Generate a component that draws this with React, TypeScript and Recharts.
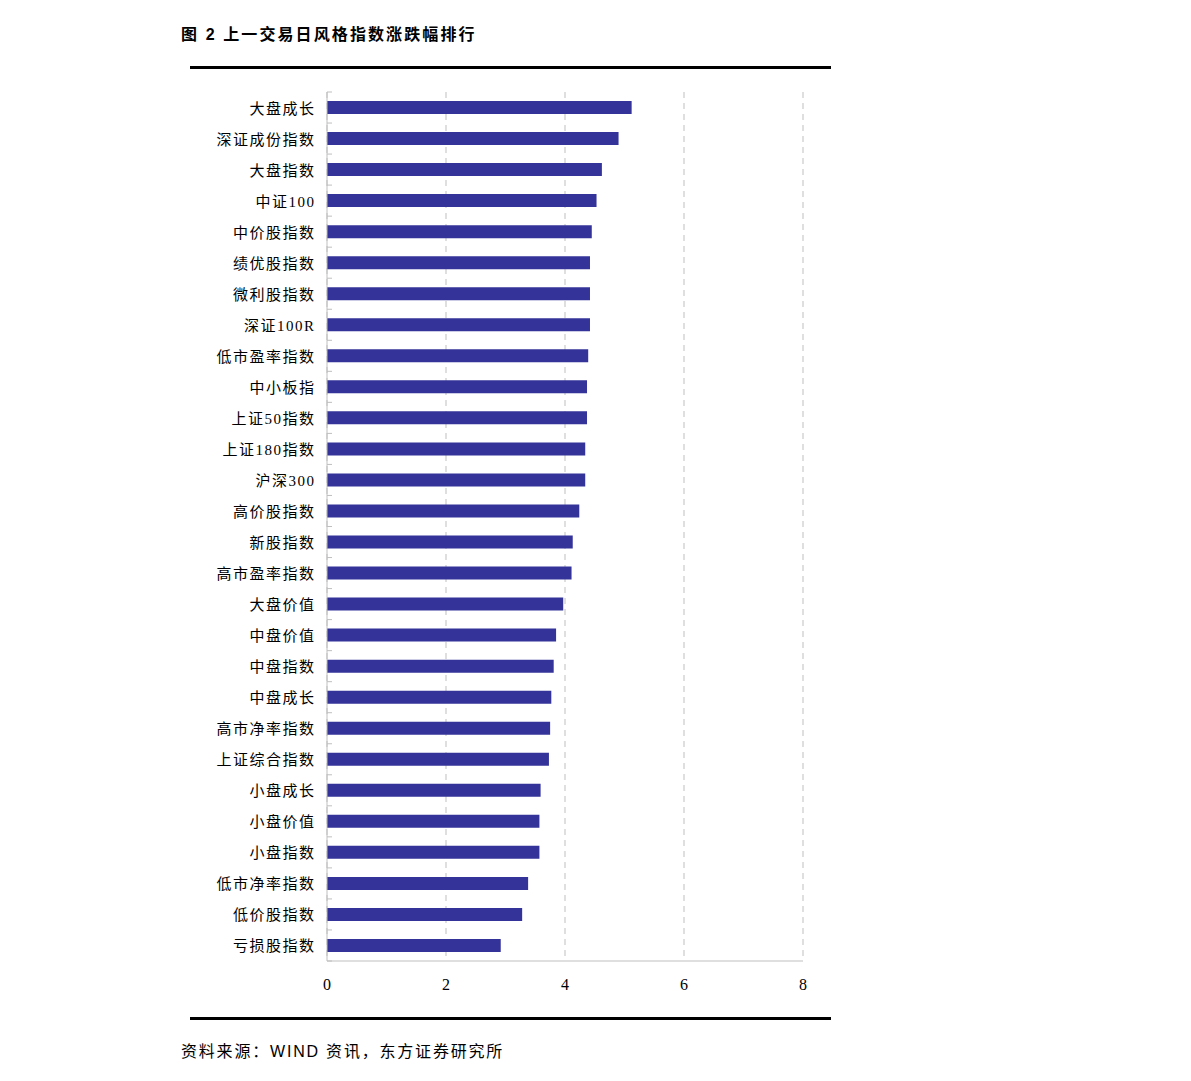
import React from 'react';
import { BarChart, Bar, XAxis, YAxis, CartesianGrid } from 'recharts';

// categories, top to bottom
const categories = [
  '大盘成长', '深证成份指数', '大盘指数', '中证100', '中价股指数', '绩优股指数', '微利股指数',
  '深证100R', '低市盈率指数', '中小板指', '上证50指数', '上证180指数', '沪深300', '高价股指数',
  '新股指数', '高市盈率指数', '大盘价值', '中盘价值', '中盘指数', '中盘成长', '高市净率指数',
  '上证综合指数', '小盘成长', '小盘价值', '小盘指数', '低市净率指数', '低价股指数', '亏损股指数',
];

// 涨跌幅 (%)
const changes = [
  5.12, 4.90, 4.62, 4.53, 4.45, 4.42, 4.42,
  4.42, 4.39, 4.37, 4.37, 4.34, 4.34, 4.24,
  4.13, 4.11, 3.97, 3.85, 3.81, 3.77, 3.75,
  3.73, 3.59, 3.57, 3.57, 3.38, 3.28, 2.92,
];

const xTicks = [0, 2, 4, 6, 8];

const data = categories.map((name, i) => ({ name, value: changes[i] }));

const W = 1191;
const H = 1081;
const PLOT_TOP = 92;
const PLOT_BOTTOM = 961;
const PLOT_LEFT = 327;
const PLOT_RIGHT = 803;
const step = (PLOT_BOTTOM - PLOT_TOP) / categories.length;

const AXIS_GRAY = '#bfbfbf';
const LABEL_FONT = '"Liberation Serif", "Noto Sans CJK SC", serif';

const CategoryTick = ({ x, y, payload, index }: any) => (
  <g>
    {index === 0 && (
      <line x1={x} x2={x + 5} y1={y - step / 2} y2={y - step / 2} stroke={AXIS_GRAY} />
    )}
    <line x1={x} x2={x + 5} y1={y + step / 2} y2={y + step / 2} stroke={AXIS_GRAY} />
    <text
      x={x - 11.5}
      y={y + 1}
      textAnchor="end"
      dominantBaseline="central"
      fontSize={15}
      letterSpacing={1.5}
      fill="#000"
      fontFamily={LABEL_FONT}
    >
      {payload.value}
    </text>
  </g>
);

const ValueTick = ({ x, y, payload }: any) => (
  <text
    x={x}
    y={y + 23}
    textAnchor="middle"
    dominantBaseline="central"
    fontSize={16}
    fill="#000"
    fontFamily={LABEL_FONT}
  >
    {payload.value}
  </text>
);

export default function App() {
  return (
    <div style={{ position: 'absolute', left: 0, top: 0, width: W, height: H, background: '#fff' }}>
      <div
        style={{
          position: 'absolute',
          left: 181,
          top: 21,
          fontSize: 16,
          fontWeight: 'bold',
          letterSpacing: 2.1,
          fontFamily: '"Liberation Sans", "Noto Sans CJK SC", sans-serif',
          whiteSpace: 'nowrap',
        }}
      >
        图 2 上一交易日风格指数涨跌幅排行
      </div>
      <div style={{ position: 'absolute', left: 190, top: 66, width: 641, height: 3, background: '#000' }} />

      <div style={{ position: 'absolute', left: 0, top: 0 }}>
        <BarChart
          width={W}
          height={H}
          data={data}
          layout="vertical"
          margin={{ top: PLOT_TOP, right: W - PLOT_RIGHT, bottom: H - PLOT_BOTTOM - 40, left: 0 }}
        >
          <CartesianGrid horizontal={false} stroke={AXIS_GRAY} strokeDasharray="6 5" />
          <XAxis
            type="number"
            domain={[0, 8]}
            ticks={xTicks}
            interval={0}
            height={40}
            axisLine={{ stroke: AXIS_GRAY }}
            tickLine={false}
            tickSize={0}
            tickMargin={0}
            tick={<ValueTick />}
          />
          <YAxis
            type="category"
            dataKey="name"
            width={PLOT_LEFT}
            interval={0}
            axisLine={{ stroke: AXIS_GRAY }}
            tickLine={false}
            tickSize={0}
            tickMargin={0}
            tick={<CategoryTick />}
          />
          <Bar dataKey="value" fill="#333399" barSize={13} isAnimationActive={false} />
        </BarChart>
      </div>

      <div style={{ position: 'absolute', left: 190, top: 1017, width: 641, height: 3, background: '#000' }} />
      <div
        style={{
          position: 'absolute',
          left: 181,
          top: 1038,
          fontSize: 16,
          letterSpacing: 1.8,
          fontFamily: '"Liberation Sans", "Noto Sans CJK SC", sans-serif',
          whiteSpace: 'nowrap',
        }}
      >
        资料来源：WIND 资讯，东方证券研究所
      </div>
    </div>
  );
}
